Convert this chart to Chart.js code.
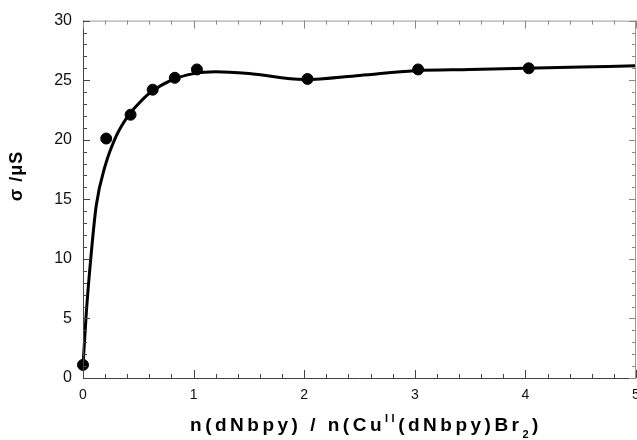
<!DOCTYPE html>
<html>
<head>
<meta charset="utf-8">
<script src="https://cdn.jsdelivr.net/npm/chart.js@4.4.1/dist/chart.umd.min.js"></script>
<style>
  html, body { margin: 0; padding: 0; background: #fff; }
</style>
</head>
<body>
<canvas id="chart" width="637" height="440"></canvas>
<script>
// measured points
const ratioX = [0, 0.21, 0.43, 0.63, 0.83, 1.03, 2.03, 3.03, 4.03];
const sigmaY = [1.1, 20.1, 22.1, 24.2, 25.2, 25.9, 25.1, 25.9, 26.0];

// fitted curve
const fitX = [0, 0.03, 0.07, 0.12, 0.2, 0.3, 0.4, 0.5, 0.6, 0.8, 1.0, 1.2, 1.5, 2.0, 2.5, 3.0, 3.5, 4.0, 4.5, 5.0];
const fitY = [1.0, 5.5, 10, 14.5, 17.8, 20.3, 21.9, 23.0, 23.9, 25.0, 25.55, 25.7, 25.55, 25.05, 25.4, 25.8, 25.9, 26.0, 26.1, 26.2];

const xTicks = [0, 1, 2, 3, 4, 5];
const yTicks = [0, 5, 10, 15, 20, 25, 30];

const yTitle = 'σ /μS';
const xTitleParts = [
  { t: 'n(dNbpy) / n(Cu', s: 0 },
  { t: 'II', s: 1 },
  { t: '(dNbpy)Br', s: 0 },
  { t: '2', s: -1 },
  { t: ')', s: 0 }
];

const axisFont = '"Liberation Sans", Arial, sans-serif';

// inward ticks, frame, x tick labels and axis titles
const framePlugin = {
  id: 'frame',
  afterDatasetsDraw(chart) {
    const { ctx, chartArea: a, scales: { x, y } } = chart;
    ctx.save();
    ctx.lineWidth = 1;
    // frame
    ctx.strokeStyle = '#999';
    ctx.beginPath();
    ctx.moveTo(a.left, a.top + 0.5); ctx.lineTo(a.right, a.top + 0.5);
    ctx.moveTo(a.right - 0.5, a.top); ctx.lineTo(a.right - 0.5, a.bottom);
    ctx.stroke();
    ctx.strokeStyle = '#444';
    ctx.beginPath();
    ctx.moveTo(a.left + 0.5, a.top); ctx.lineTo(a.left + 0.5, a.bottom + 0.5);
    ctx.lineTo(a.right, a.bottom + 0.5);
    ctx.stroke();

    // x ticks every 0.2, major every 1
    for (let i = 0; i <= 25; i++) {
      const v = i * 0.2;
      const px = Math.round(x.getPixelForValue(v)) + 0.5;
      const len = i % 5 === 0 ? 8 : 4;
      ctx.strokeStyle = '#444';
      ctx.beginPath();
      ctx.moveTo(px, a.bottom); ctx.lineTo(px, a.bottom - len);
      ctx.stroke();
      ctx.strokeStyle = '#888';
      ctx.beginPath();
      ctx.moveTo(px, a.top); ctx.lineTo(px, a.top + len);
      ctx.stroke();
    }
    // y ticks every 1, major every 5
    for (let v = 0; v <= 30; v++) {
      const py = Math.round(y.getPixelForValue(v)) + 0.5;
      const len = v % 5 === 0 ? 7 : 4;
      ctx.strokeStyle = '#444';
      ctx.beginPath();
      ctx.moveTo(a.left, py); ctx.lineTo(a.left + len, py);
      ctx.stroke();
      ctx.strokeStyle = '#888';
      ctx.beginPath();
      ctx.moveTo(a.right, py); ctx.lineTo(a.right - len, py);
      ctx.stroke();
    }

    // x tick labels (drawn here so the last one may run off the edge like the original)
    ctx.fillStyle = '#111';
    ctx.font = '14px ' + axisFont;
    ctx.textAlign = 'center';
    ctx.textBaseline = 'top';
    xTicks.forEach(v => ctx.fillText(String(v), x.getPixelForValue(v), a.bottom + 10));

    // y title
    ctx.fillStyle = '#000';
    ctx.font = 'bold 18px ' + axisFont;
    ctx.letterSpacing = '1px';
    ctx.textAlign = 'center';
    ctx.textBaseline = 'middle';
    ctx.translate(17, 176);
    ctx.rotate(-Math.PI / 2);
    ctx.fillText(yTitle, 0, 0);
    ctx.setTransform(1, 0, 0, 1, 0, 0);

    // x title with super/subscript
    ctx.letterSpacing = '3.5px';
    ctx.textAlign = 'left';
    ctx.textBaseline = 'alphabetic';
    const big = 'bold 19px ' + axisFont, small = 'bold 11px ' + axisFont;
    let w = 0;
    xTitleParts.forEach(p => { ctx.font = p.s ? small : big; w += ctx.measureText(p.t).width; });
    let cx = 366 - w / 2;
    const base = 431;
    xTitleParts.forEach(p => {
      ctx.font = p.s ? small : big;
      const dy = p.s === 1 ? -9 : p.s === -1 ? 7 : 0;
      ctx.fillText(p.t, cx, base + dy);
      cx += ctx.measureText(p.t).width;
    });
    ctx.restore();
  }
};

new Chart(document.getElementById('chart'), {
  type: 'scatter',
  data: {
    datasets: [
      {
        label: 'fit',
        data: fitX.map((v, i) => ({ x: v, y: fitY[i] })),
        showLine: true,
        borderColor: '#000',
        borderWidth: 3,
        pointRadius: 0,
        cubicInterpolationMode: 'monotone',
        clip: false,
        order: 2
      },
      {
        label: 'measured',
        data: ratioX.map((v, i) => ({ x: v, y: sigmaY[i] })),
        backgroundColor: '#000',
        borderColor: '#000',
        pointRadius: 5.5,
        clip: false,
        order: 1
      }
    ]
  },
  options: {
    responsive: false,
    animation: false,
    layout: { autoPadding: false, padding: { top: 17, right: 1, left: 0, bottom: 0 } },
    plugins: { legend: { display: false }, tooltip: { enabled: false } },
    scales: {
      x: {
        type: 'linear', min: 0, max: 5,
        afterFit: s => { s.height = 62; },
        afterBuildTicks: s => { s.ticks = xTicks.map(v => ({ value: v })); },
        grid: { display: false, drawTicks: false },
        border: { display: false },
        ticks: { display: false }
      },
      y: {
        type: 'linear', min: 0, max: 30,
        afterFit: s => { s.width = 83; },
        afterBuildTicks: s => { s.ticks = yTicks.map(v => ({ value: v })); },
        grid: { display: false, drawTicks: false },
        border: { display: false },
        ticks: { color: '#111', padding: 11, font: { family: axisFont, size: 16 } }
      }
    }
  },
  plugins: [framePlugin]
});
</script>
</body>
</html>
